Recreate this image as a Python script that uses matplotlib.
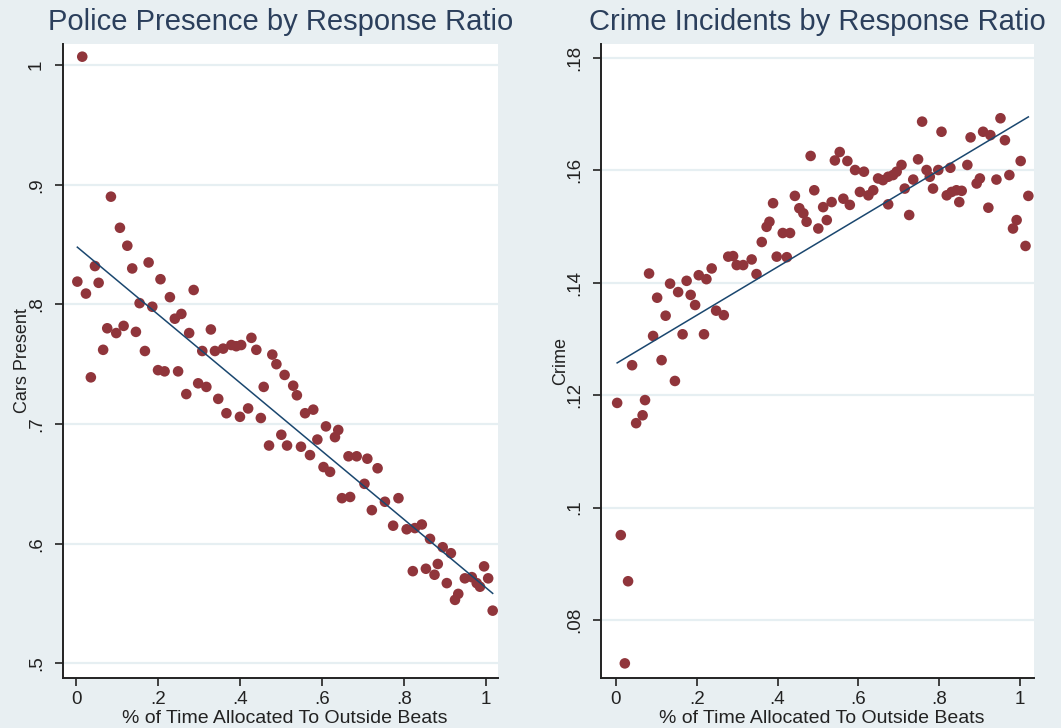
import numpy as np
import matplotlib
matplotlib.use("Agg")
import matplotlib.pyplot as plt

plt.rcParams['font.family'] = ['Liberation Sans', 'DejaVu Sans']

# ---------------- data ----------------
police_x = [0.003, 0.015, 0.024, 0.036, 0.046, 0.055, 0.066, 0.076, 0.085, 0.098,
            0.107, 0.116, 0.125, 0.137, 0.146, 0.155, 0.168, 0.177, 0.186, 0.200,
            0.206, 0.216, 0.229, 0.241, 0.249, 0.257, 0.269, 0.276, 0.287, 0.298,
            0.308, 0.318, 0.329, 0.339, 0.347, 0.359, 0.367, 0.379, 0.391, 0.400,
            0.403, 0.420, 0.428, 0.440, 0.451, 0.458, 0.471, 0.479, 0.489, 0.501,
            0.509, 0.515, 0.530, 0.539, 0.549, 0.559, 0.571, 0.579, 0.589, 0.604,
            0.610, 0.620, 0.632, 0.640, 0.649, 0.665, 0.669, 0.685, 0.704, 0.711,
            0.722, 0.736, 0.754, 0.774, 0.787, 0.807, 0.822, 0.827, 0.844, 0.854,
            0.864, 0.875, 0.883, 0.895, 0.905, 0.915, 0.925, 0.933, 0.949, 0.966,
            0.978, 0.986, 0.996, 1.006, 1.017]
police_y = [0.819, 1.007, 0.809, 0.739, 0.832, 0.818, 0.762, 0.780, 0.890, 0.776,
            0.864, 0.782, 0.849, 0.830, 0.777, 0.801, 0.761, 0.835, 0.798, 0.745,
            0.821, 0.744, 0.806, 0.788, 0.744, 0.792, 0.725, 0.776, 0.812, 0.734,
            0.761, 0.731, 0.779, 0.761, 0.721, 0.763, 0.709, 0.766, 0.765, 0.706,
            0.766, 0.713, 0.772, 0.762, 0.705, 0.731, 0.682, 0.758, 0.750, 0.691,
            0.741, 0.682, 0.732, 0.724, 0.681, 0.709, 0.674, 0.712, 0.687, 0.664,
            0.698, 0.660, 0.689, 0.695, 0.638, 0.673, 0.639, 0.673, 0.650, 0.671,
            0.628, 0.663, 0.635, 0.615, 0.638, 0.612, 0.577, 0.613, 0.616, 0.579,
            0.604, 0.574, 0.583, 0.597, 0.567, 0.592, 0.553, 0.558, 0.571, 0.572,
            0.567, 0.564, 0.581, 0.571, 0.544]

crime_x = [0.003, 0.012, 0.022, 0.030, 0.040, 0.050, 0.066, 0.072, 0.082, 0.092,
           0.102, 0.113, 0.123, 0.134, 0.146, 0.154, 0.165, 0.175, 0.185, 0.196,
           0.205, 0.218, 0.224, 0.237, 0.248, 0.267, 0.278, 0.290, 0.299, 0.315,
           0.336, 0.348, 0.361, 0.373, 0.380, 0.389, 0.398, 0.413, 0.423, 0.431,
           0.443, 0.454, 0.464, 0.472, 0.482, 0.491, 0.501, 0.513, 0.522, 0.534,
           0.542, 0.554, 0.563, 0.573, 0.579, 0.592, 0.604, 0.614, 0.625, 0.637,
           0.649, 0.661, 0.674, 0.674, 0.686, 0.695, 0.707, 0.715, 0.726, 0.736,
           0.748, 0.758, 0.769, 0.777, 0.785, 0.798, 0.806, 0.819, 0.828, 0.831,
           0.843, 0.850, 0.856, 0.870, 0.878, 0.893, 0.901, 0.909, 0.922, 0.927,
           0.942, 0.952, 0.963, 0.974, 0.983, 0.992, 1.002, 1.014, 1.021]
crime_y = [0.1186, 0.0951, 0.0723, 0.0869, 0.1253, 0.1150, 0.1164, 0.1191, 0.1416, 0.1305,
           0.1373, 0.1262, 0.1341, 0.1398, 0.1225, 0.1383, 0.1308, 0.1403, 0.1378, 0.1360,
           0.1413, 0.1308, 0.1406, 0.1425, 0.1350, 0.1342, 0.1446, 0.1447, 0.1431, 0.1431,
           0.1441, 0.1415, 0.1472, 0.1499, 0.1508, 0.1541, 0.1446, 0.1488, 0.1445, 0.1488,
           0.1554, 0.1532, 0.1523, 0.1508, 0.1625, 0.1564, 0.1496, 0.1534, 0.1511, 0.1543,
           0.1617, 0.1632, 0.1549, 0.1616, 0.1538, 0.1600, 0.1561, 0.1597, 0.1555, 0.1564,
           0.1585, 0.1582, 0.1588, 0.1539, 0.1591, 0.1597, 0.1609, 0.1567, 0.1520, 0.1583,
           0.1619, 0.1686, 0.1600, 0.1588, 0.1567, 0.1600, 0.1668, 0.1555, 0.1604, 0.1561,
           0.1564, 0.1543, 0.1563, 0.1609, 0.1658, 0.1576, 0.1585, 0.1668, 0.1533, 0.1662,
           0.1583, 0.1692, 0.1653, 0.1591, 0.1496, 0.1511, 0.1616, 0.1465, 0.1554]

x_ticks = [0, 0.2, 0.4, 0.6, 0.8, 1.0]
x_ticklabels = ['0', '.2', '.4', '.6', '.8', '1']
police_yticks = [0.5, 0.6, 0.7, 0.8, 0.9, 1.0]
police_yticklabels = ['.5', '.6', '.7', '.8', '.9', '1']
crime_yticks = [0.08, 0.10, 0.12, 0.14, 0.16, 0.18]
crime_yticklabels = ['.08', '.1', '.12', '.14', '.16', '.18']

titles = ['Police Presence by Response Ratio', 'Crime Incidents by Response Ratio']
ylabels = ['Cars Present', 'Crime']
xlabel = '% of Time Allocated To Outside Beats'

# ---------------- style ----------------
BG = '#e8eff2'
GRID = '#e6eff2'
MARKER = '#90353b'
LINE = '#1a476f'
TITLE_C = '#2b3f5c'
TXT = '#222222'

fig = plt.figure(figsize=(10.61, 7.28), dpi=100, facecolor=BG)

ax1 = fig.add_axes([63/1061, 50/728, 435/1061, 634/728])
ax2 = fig.add_axes([601/1061, 50/728, 433/1061, 634/728])

panels = [
    (ax1, police_x, police_y, police_yticks, police_yticklabels, (-0.032, 1.030), (0.4877, 1.0176)),
    (ax2, crime_x, crime_y, crime_yticks, crime_yticklabels, (-0.037, 1.035), (0.0697, 0.1824)),
]

for i, (ax, xs, ys, yt, ytl, xl, yl) in enumerate(panels):
    xs = np.array(xs)
    ys = np.array(ys)
    ax.set_facecolor('white')
    ax.set_xlim(*xl)
    ax.set_ylim(*yl)
    for y in yt:
        ax.axhline(y, color=GRID, lw=1.6, zorder=0)
    ax.scatter(xs, ys, s=58, color=MARKER, edgecolors='none', zorder=3)
    b, a = np.polyfit(xs, ys, 1)
    xx = np.array([xs.min(), xs.max()])
    ax.plot(xx, a + b * xx, color=LINE, lw=1.1, zorder=4)

    for s in ['top', 'right']:
        ax.spines[s].set_visible(False)
    for s in ['left', 'bottom']:
        ax.spines[s].set_color(TXT)
        ax.spines[s].set_linewidth(1.4)

    ax.set_xticks(x_ticks)
    ax.set_xticklabels(x_ticklabels, fontsize=13.5)
    ax.set_yticks(yt)
    ax.set_yticklabels(ytl, fontsize=13.5, rotation=90, va='center')
    ax.tick_params(axis='x', direction='out', length=6, width=1.2, color=TXT,
                   labelcolor=TXT, pad=3)
    ax.tick_params(axis='y', direction='out', length=6, width=1.2, color=TXT,
                   labelcolor=TXT, pad=7)
    ax.set_xlabel(xlabel, fontsize=14, color=TXT)
    ax.xaxis.set_label_coords(0.51, -0.05)
    ax.set_ylabel(ylabels[i], fontsize=13, color=TXT)
    ax.yaxis.set_label_coords(-0.094, 0.5)
    ax.yaxis.label.set_va('center')
    ax.set_title(titles[i], fontsize=21, color=TITLE_C, pad=10)

fig.savefig('out.png', dpi=100, facecolor=BG)
